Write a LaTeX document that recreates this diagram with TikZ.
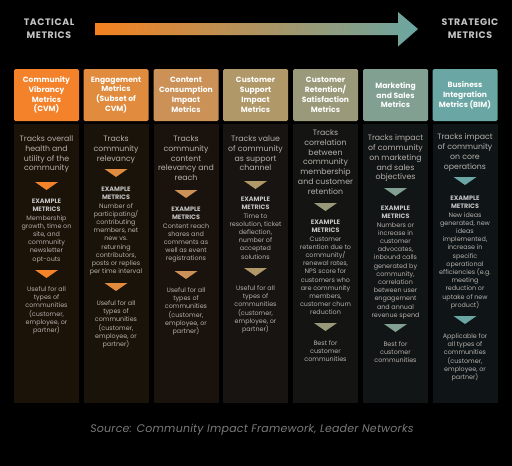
\documentclass[tikz,border=0pt]{standalone}
\usepackage{fontspec}
\setmainfont{Poppins}
\definecolor{hcA}{HTML}{F4822A}
\definecolor{hcB}{HTML}{E08B3D}
\definecolor{hcC}{HTML}{CB9157}
\definecolor{hcD}{HTML}{B09868}
\definecolor{hcE}{HTML}{9A9A7A}
\definecolor{hcF}{HTML}{82A092}
\definecolor{hcG}{HTML}{6AA6A3}
\definecolor{bcA}{HTML}{1B1208}
\definecolor{bcB}{HTML}{1A1309}
\definecolor{bcC}{HTML}{19120D}
\definecolor{bcD}{HTML}{171411}
\definecolor{bcE}{HTML}{141512}
\definecolor{bcF}{HTML}{121515}
\definecolor{bcG}{HTML}{0F1517}
\definecolor{txtgray}{HTML}{B5B1AC}
\definecolor{boldgray}{HTML}{C4C4C4}
\definecolor{srcgray}{HTML}{7A7A7A}
\definecolor{arrL}{HTML}{F4811F}
\definecolor{arrR}{HTML}{6AA6A2}
\tikzset{
  hdr/.style={minimum width=65pt, minimum height=52pt, inner sep=0pt, rounded corners=1.5pt,
    text=white, align=center, font=\fontsize{7.6}{9.8}\selectfont\bfseries},
  bodybox/.style={minimum width=65pt, minimum height=279pt, inner sep=0pt, anchor=north},
  desc/.style={anchor=north, inner sep=0pt, align=center, text=txtgray,
    font=\fontsize{7.8}{9.8}\selectfont},
  detail/.style={anchor=north, inner sep=0pt, align=center, text=txtgray,
    font=\fontsize{6.4}{8.2}\selectfont},
  toplabel/.style={inner sep=0pt, align=center, text=boldgray,
    font=\fontsize{9.4}{13}\selectfont\bfseries\addfontfeatures{LetterSpace=6}}
}
\newcommand{\exm}{{\color{boldgray}\bfseries EXAMPLE}\\{\color{boldgray}\bfseries METRICS}}
\newcommand{\tri}[4]{\fill[#1] (#2-11.5,#3) -- (#2+11.5,#3) -- (#2,#4) -- cycle;}
\begin{document}
\begin{tikzpicture}[x=1pt,y=-1pt]
\useasboundingbox (0,0) rectangle (512,466);
\fill[black] (0,0) rectangle (512,466);
% top arrow
\node[toplabel] (tl) at (49,28.5) {TACTICAL\\METRICS};
\node[toplabel] (ts) at (470,28.5) {STRATEGIC\\METRICS};
\shade[left color=arrL, right color=arrR] (95,23) -- (398,23) -- (398,12) -- (418,29) -- (398,46.5) -- (398,35) -- (95,35) -- cycle;
% column 1
\node[bodybox, fill=bcA] (b1) at (46.5,124) {};
\node[hdr, fill=hcA] (h1) at (46.5,95) {Community\\Vibrancy\\Metrics\\(CVM)};
\node[desc] (d1) at (46.5,135.5) {Tracks overall\\health and\\utility of the\\community};
\tri{hcA}{46.5}{182}{190}
\node[detail] (e1) at (46.5,199) {\exm\\Membership\\growth, time on\\site, and\\community\\newsletter\\opt-outs};
\tri{hcA}{46.5}{270}{278}
\node[detail] (u1) at (46.5,286.5) {Useful for all\\types of\\communities\\(customer,\\employee, or\\partner)};
% column 2
\node[bodybox, fill=bcB] (b2) at (116,124) {};
\node[hdr, fill=hcB] (h2) at (116,95) {Engagement\\Metrics\\(Subset of\\CVM)};
\node[desc] (d2) at (116,135.5) {Tracks\\community\\relevancy};
\tri{hcB}{116}{169}{177}
\node[detail] (e2) at (116,187) {\exm\\Number of\\participating/\\contributing\\members, net\\new vs.\\returning\\contributors,\\posts or replies\\per time interval};
\tri{hcB}{116}{283}{291}
\node[detail] (u2) at (116,300.5) {Useful for all\\types of\\communities\\(customer,\\employee, or\\partner)};
% column 3
\node[bodybox, fill=bcC] (b3) at (186,124) {};
\node[hdr, fill=hcC] (h3) at (186,95) {Content\\Consumption\\Impact\\Metrics};
\node[desc] (d3) at (186,135.5) {Tracks\\community\\content\\relevancy and\\reach};
\tri{hcC}{186}{190}{198}
\node[detail] (e3) at (186,207) {\exm\\Content reach\\shares and\\comments as\\well as event\\registrations};
\tri{hcC}{186}{271}{279}
\node[detail] (u3) at (186,287.5) {Useful for all\\types of\\communities\\(customer,\\employee, or\\partner)};
% column 4
\node[bodybox, fill=bcD] (b4) at (255.5,124) {};
\node[hdr, fill=hcD] (h4) at (255.5,95) {Customer\\Support\\Impact\\Metrics};
\node[desc] (d4) at (255.5,135.5) {Tracks value\\of community\\as support\\channel};
\tri{hcD}{255.5}{181}{189}
\node[detail] (e4) at (255.5,197) {\exm\\Time to\\resolution, ticket\\deflection,\\number of\\accepted\\solutions};
\tri{hcD}{255.5}{268}{276}
\node[detail] (u4) at (255.5,285.5) {Useful for all\\types of\\communities\\(customer,\\employee, or\\partner)};
% column 5
\node[bodybox, fill=bcE] (b5) at (325.5,124) {};
\node[hdr, fill=hcE] (h5) at (325.5,95) {Customer\\Retention/\\Satisfaction\\Metrics};
\node[desc] (d5) at (325.5,129.5) {Tracks\\correlation\\between\\community\\membership\\and customer\\retention};
\tri{hcE}{325.5}{203}{211}
\node[detail] (e5) at (325.5,220) {\exm\\Customer\\retention due to\\community/\\renewal rates,\\NPS score for\\customers who\\are community\\members,\\customer churn\\reduction};
\tri{hcE}{325.5}{323}{331}
\node[detail] (u5) at (325.5,340.5) {Best for\\customer\\communities};
% column 6
\node[bodybox, fill=bcF] (b6) at (395.5,124) {};
\node[hdr, fill=hcF] (h6) at (395.5,95) {Marketing\\and Sales\\Metrics};
\node[desc] (d6) at (395.5,134.5) {Tracks impact\\of community\\on marketing\\and sales\\objectives};
\tri{hcF}{395.5}{188}{196}
\node[detail] (e6) at (395.5,206) {\exm\\Numbers or\\increase in\\customer\\advocates,\\inbound calls\\generated by\\community,\\correlation\\between user\\engagement\\and annual\\revenue spend};
\tri{hcF}{395.5}{324}{332}
\node[detail] (u6) at (395.5,341.5) {Best for\\customer\\communities};
% column 7
\node[bodybox, fill=bcG] (b7) at (465,124) {};
\node[hdr, fill=hcG] (h7) at (465,95) {Business\\Integration\\Metrics (BIM)};
\node[desc] (d7) at (465,133.5) {Tracks impact\\of community\\on core\\operations};
\tri{hcG}{465}{177}{185}
\node[detail] (e7) at (465,196) {\exm\\New ideas\\generated, new\\ideas\\implemented,\\increase in\\specific\\operational\\efficiencies (e.g.\\meeting\\reduction or\\uptake of new\\product)};
\tri{hcG}{465}{316}{324}
\node[detail] (u7) at (465,333.5) {Applicable for\\all types of\\communities\\(customer,\\employee, or\\partner)};
% source
\node[inner sep=0pt, text=srcgray, font=\fontsize{11}{13}\selectfont\itshape\addfontfeatures{LetterSpace=2}] (src) at (252,430) {Source: Community Impact Framework, Leader Networks};
\end{tikzpicture}
\end{document}
